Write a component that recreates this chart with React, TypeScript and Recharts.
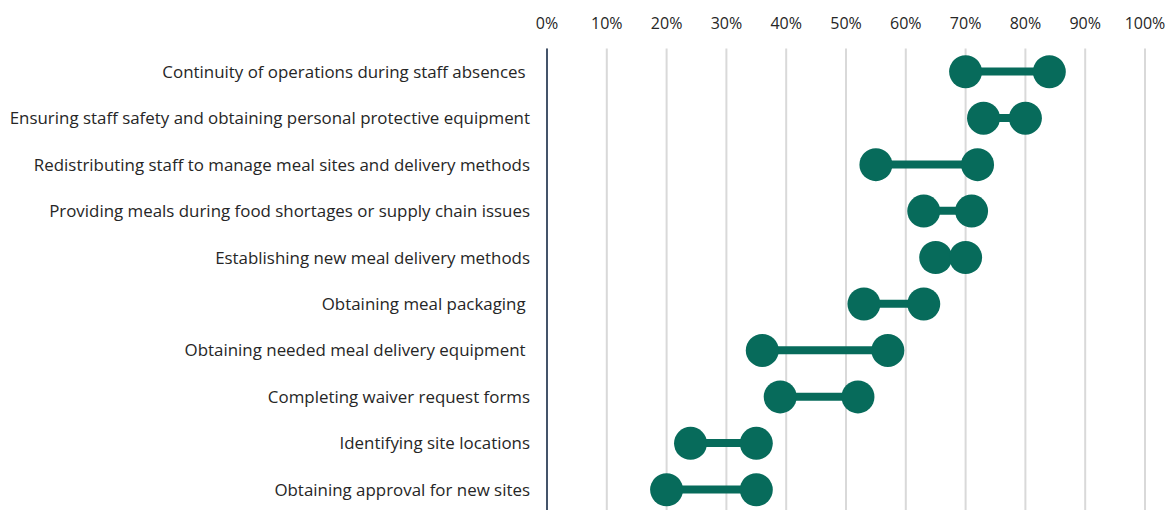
import {
  ComposedChart,
  Bar,
  Line,
  XAxis,
  YAxis,
  CartesianGrid,
} from "recharts";

const CATEGORIES = [
  "Continuity of operations during staff absences\u00a0",
  "Ensuring staff safety and obtaining personal protective equipment",
  "Redistributing staff to manage meal sites and delivery methods",
  "Providing meals during food shortages or supply chain issues",
  "Establishing new meal delivery methods",
  "Obtaining meal packaging\u00a0",
  "Obtaining needed meal delivery equipment\u00a0",
  "Completing waiver request forms",
  "Identifying site locations",
  "Obtaining approval for new sites",
];

const LOW = [70, 73, 55, 63, 65, 53, 36, 39, 24, 20];
const HIGH = [84, 80, 72, 71, 70, 63, 57, 52, 35, 35];

const X_TICKS = [0, 10, 20, 30, 40, 50, 60, 70, 80, 90, 100];

const GREEN = "#076B5B";
const FONT = "'Open Sans', 'Liberation Sans', sans-serif";

const data = CATEGORIES.map((name, i) => ({
  name,
  low: LOW[i],
  high: HIGH[i],
}));

export default function App() {
  return (
    <div
      style={{
        position: "absolute",
        left: 0,
        top: 0,
        width: 1174,
        height: 510,
        overflow: "hidden",
        background: "#fff",
        fontFamily: FONT,
      }}
    >
      <ComposedChart
        width={1174}
        height={513}
        data={data}
        layout="vertical"
        margin={{ top: 0, right: 29, bottom: 0, left: 0 }}
      >
        <CartesianGrid
          horizontal={false}
          stroke="#D9D9D9"
          strokeWidth={2}
        />
        <XAxis
          type="number"
          orientation="top"
          domain={[0, 100]}
          ticks={X_TICKS}
          tickFormatter={(v) => `${v}%`}
          axisLine={false}
          tickLine={false}
          height={48.5}
          tickSize={6}
          tickMargin={14}
          tick={{ fill: "#262626", fontSize: 16, fontFamily: FONT }}
          interval={0}
        />
        <YAxis
          type="category"
          dataKey="name"
          width={547}
          axisLine={{ stroke: "#44546A", strokeWidth: 2 }}
          tickLine={false}
          tickSize={6}
          tickMargin={11}
          tick={{ fill: "#262626", fontSize: 16.9, fontFamily: FONT }}
          interval={0}
        />
        <Bar
          dataKey={(d: { low: number; high: number }) => [d.low, d.high]}
          fill={GREEN}
          barSize={8}
          isAnimationActive={false}
        />
        <Line
          dataKey="low"
          stroke="none"
          dot={{ r: 16.5, fill: GREEN, stroke: "none" }}
          activeDot={false}
          isAnimationActive={false}
        />
        <Line
          dataKey="high"
          stroke="none"
          dot={{ r: 16.5, fill: GREEN, stroke: "none" }}
          activeDot={false}
          isAnimationActive={false}
        />
      </ComposedChart>
    </div>
  );
}
